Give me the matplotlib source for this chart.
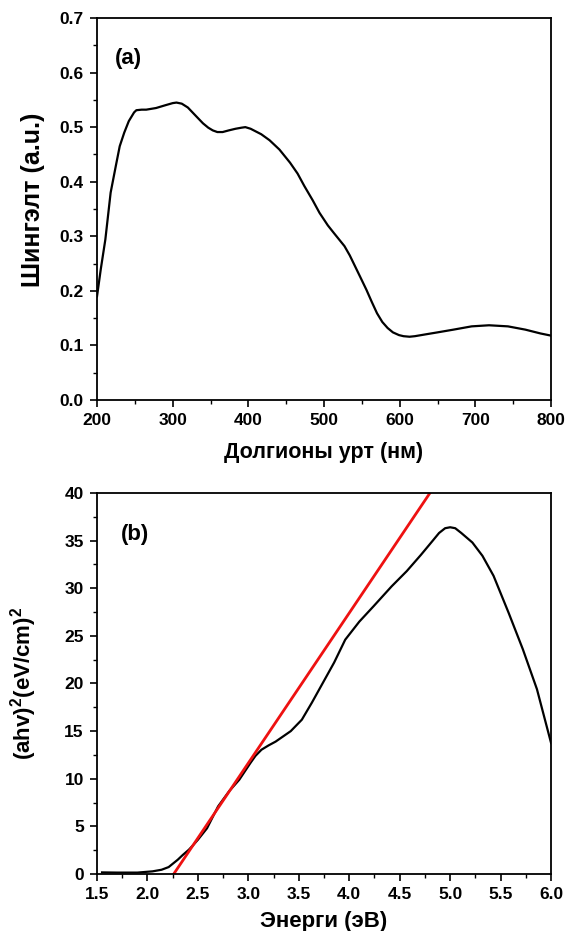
import numpy as np
import matplotlib.pyplot as plt
from matplotlib.ticker import MultipleLocator

plt.rcParams['font.family'] = ['Liberation Sans', 'DejaVu Sans']
plt.rcParams['font.weight'] = 'bold'
plt.rcParams['mathtext.fontset'] = 'custom'
plt.rcParams['mathtext.bf'] = 'Liberation Sans:bold'
plt.rcParams['mathtext.rm'] = 'Liberation Sans:bold'

# (a) absorbance spectrum
wavelength = [200, 205, 211, 218, 225, 230, 236, 242, 249, 252, 259, 265, 278,
              290, 300, 305, 312, 320, 331, 340, 347, 353, 359, 366, 374, 383,
              391, 396, 403, 417, 428, 441, 455, 465, 474, 485, 494, 505, 513,
              520, 527, 534, 541, 548, 556, 563, 570, 577, 584, 591, 599, 605,
              613, 620, 637, 650, 671, 695, 718, 743, 766, 786, 800]
absorb = [0.19, 0.24, 0.294, 0.38, 0.43, 0.465, 0.49, 0.511, 0.527, 0.531,
          0.532, 0.532, 0.535, 0.540, 0.544, 0.545, 0.543, 0.536, 0.52, 0.507,
          0.499, 0.494, 0.491, 0.491, 0.494, 0.497, 0.499, 0.500, 0.497,
          0.487, 0.476, 0.459, 0.435, 0.415, 0.392, 0.366, 0.343, 0.320,
          0.306, 0.294, 0.282, 0.265, 0.245, 0.225, 0.202, 0.18, 0.159, 0.143,
          0.132, 0.124, 0.119, 0.117, 0.116, 0.117, 0.121, 0.124, 0.129,
          0.135, 0.137, 0.135, 0.129, 0.122, 0.118]

# (b) Tauc plot
energy = [1.55, 1.7, 1.9, 2.05, 2.14, 2.21, 2.30, 2.35, 2.41, 2.45, 2.50,
          2.59, 2.70, 2.81, 2.91, 3.02, 3.07, 3.13, 3.20, 3.27, 3.42, 3.53,
          3.63, 3.74, 3.85, 3.96, 4.10, 4.24, 4.42, 4.57, 4.71, 4.82, 4.89,
          4.95, 5.0, 5.05, 5.11, 5.22, 5.32, 5.43, 5.58, 5.72, 5.86, 6.0]
tauc = [0.17, 0.15, 0.15, 0.28, 0.45, 0.73, 1.5, 2.0, 2.55, 3.0, 3.6, 4.8,
        7.1, 8.7, 9.9, 11.65, 12.4, 13.05, 13.5, 13.9, 15.0, 16.2, 18.0,
        20.1, 22.2, 24.6, 26.5, 28.1, 30.2, 31.8, 33.5, 34.9, 35.8, 36.3,
        36.4, 36.3, 35.8, 34.8, 33.4, 31.3, 27.4, 23.6, 19.4, 13.75]

# linear fit of the band edge
band_gap = 2.26
fit_slope = 15.75

fig = plt.figure(figsize=(5.69, 9.31), dpi=100)
ax1 = fig.add_axes([0.1705, 0.5703, 0.798, 0.4104])
ax2 = fig.add_axes([0.1705, 0.0612, 0.798, 0.4093])

ax1.plot(wavelength, absorb, color='black', lw=1.6)
ax1.set_xlim(200, 800)
ax1.set_ylim(0, 0.7)
ax1.xaxis.set_major_locator(MultipleLocator(100))
ax1.xaxis.set_minor_locator(MultipleLocator(50))
ax1.yaxis.set_major_locator(MultipleLocator(0.1))
ax1.yaxis.set_minor_locator(MultipleLocator(0.05))
ax1.set_xlabel('Долгионы урт (нм)', fontsize=15.5, fontweight='bold', labelpad=10)
ax1.set_ylabel('Шингэлт (a.u.)', fontsize=18, fontweight='bold')
ax1.yaxis.set_label_coords(-0.114, 0.525)
ax1.text(224, 0.625, '(a)', fontsize=16, fontweight='bold', va='center')

ax2.plot(energy, tauc, color='black', lw=1.6)
fit_x = np.array([band_gap, band_gap + 40 / fit_slope])
ax2.plot(fit_x, fit_slope * (fit_x - band_gap), color='#ee1111', lw=2)
ax2.set_xlim(1.5, 6.0)
ax2.set_ylim(0, 40)
ax2.xaxis.set_major_locator(MultipleLocator(0.5))
ax2.xaxis.set_minor_locator(MultipleLocator(0.25))
ax2.yaxis.set_major_locator(MultipleLocator(5))
ax2.yaxis.set_minor_locator(MultipleLocator(2.5))
ax2.set_xlabel('Энерги (эВ)', fontsize=16, fontweight='bold', labelpad=6)
ax2.set_ylabel(r'(ahv)$^\mathbf{2}$(eV/cm)$^\mathbf{2}$', fontsize=16,
               fontweight='bold')
ax2.yaxis.set_label_coords(-0.128, 0.5)
ax2.text(1.74, 35.6, '(b)', fontsize=16, fontweight='bold', va='center')

for ax in (ax1, ax2):
    for s in ax.spines.values():
        s.set_linewidth(1.3)
    ax.tick_params(which='major', direction='out', length=5, width=1.2,
                   labelsize=12.5, pad=4.5)
    ax.tick_params(which='minor', direction='out', length=3, width=1.0)
    for lab in ax.get_xticklabels() + ax.get_yticklabels():
        lab.set_fontweight('bold')

fig.savefig('out.png', dpi=100)
